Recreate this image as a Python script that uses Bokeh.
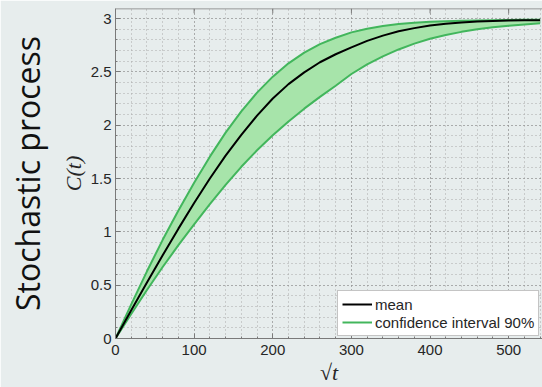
import numpy as np
from bokeh.plotting import figure
from bokeh.models import (Range1d, LinearAxis, SingleIntervalTicker, FixedTicker,
                          Legend, LegendItem, Span)
from bokeh.embed import file_html
from bokeh.resources import INLINE

# ---- data ----
sqrt_t = [0, 20, 40, 60, 80, 100, 120, 140, 160, 180, 200, 220, 240, 260,
          280, 300, 320, 340, 360, 380, 400, 420, 440, 460, 480, 500, 520, 540]
mean = [0, 0.265, 0.525, 0.78, 1.03, 1.27, 1.5, 1.715, 1.91, 2.09, 2.25,
        2.385, 2.495, 2.59, 2.665, 2.73, 2.79, 2.84, 2.88, 2.91, 2.935,
        2.952, 2.963, 2.971, 2.977, 2.981, 2.983, 2.985]
upper = [0, 0.32, 0.63, 0.925, 1.2, 1.46, 1.705, 1.93, 2.13, 2.305, 2.455,
         2.58, 2.68, 2.76, 2.82, 2.87, 2.905, 2.93, 2.948, 2.96, 2.969,
         2.975, 2.979, 2.982, 2.985, 2.987, 2.988, 2.989]
lower = [0, 0.23, 0.455, 0.67, 0.875, 1.07, 1.26, 1.44, 1.61, 1.765, 1.905,
         2.035, 2.155, 2.265, 2.37, 2.48, 2.57, 2.645, 2.71, 2.765, 2.81,
         2.845, 2.875, 2.9, 2.918, 2.933, 2.945, 2.955]

x_ticks = [0, 100, 200, 300, 400, 500]
x_tick_labels = {0: "0", 100: "100", 200: "200", 300: "300", 400: "400", 500: "500"}
y_tick_labels = {0: "0", 0.5: "0.5", 1: "1", 1.5: "1.5", 2: "2", 2.5: "2.5", 3: "3"}

Y_MAX = 3.094
BG = "#e7eded"
AX = "#7a7a7a"
TXT = "#262626"

p = figure(width=542, height=387, output_backend="svg", toolbar_location=None,
           x_range=Range1d(0, 543), y_range=Range1d(0, Y_MAX),
           x_axis_location=None, y_axis_location=None,
           min_border_left=115, min_border_right=0, min_border_top=8,
           min_border_bottom=49)
p.background_fill_color = BG
p.border_fill_color = BG
p.outline_line_color = None

xt = SingleIntervalTicker(interval=100, num_minor_ticks=5)
yt = SingleIntervalTicker(interval=0.5, num_minor_ticks=5)

xa = LinearAxis(ticker=xt, major_label_overrides=x_tick_labels)
ya = LinearAxis(ticker=yt, major_label_overrides=y_tick_labels)
for ax in (xa, ya):
    ax.axis_line_color = AX
    ax.major_tick_line_color = AX
    ax.minor_tick_line_color = AX
    ax.major_tick_in = 5
    ax.major_tick_out = 0
    ax.minor_tick_in = 2
    ax.minor_tick_out = 0
    ax.major_label_text_font = "Liberation Sans"
    ax.major_label_text_font_size = "15px"
    ax.major_label_text_color = TXT
    ax.axis_label_text_font = "Liberation Serif"
    ax.axis_label_text_font_style = "italic"
    ax.axis_label_text_font_size = "22px"
    ax.axis_label_text_color = TXT
xa.major_label_standoff = 6
ya.major_label_standoff = 4
xa.axis_label = "√t"
xa.axis_label_standoff = 2
ya.axis_label = "C(t)"
ya.axis_label_standoff = 2
p.add_layout(xa, "below")
p.add_layout(ya, "left")

# outer left "axis" carrying the slide title
sa = LinearAxis(ticker=FixedTicker(ticks=[]), axis_line_color=None,
                major_tick_line_color=None, minor_tick_line_color=None,
                major_label_standoff=0)
sa.axis_label = "Stochastic process"
sa.axis_label_text_font = "Open Sans"
sa.axis_label_text_font_size = "32px"
sa.axis_label_text_font_style = "normal"
sa.axis_label_text_color = "#111111"
sa.axis_label_standoff = 9
p.add_layout(sa, "left")

p.xgrid.ticker = xt
p.ygrid.ticker = yt
for g in (p.xgrid, p.ygrid):
    g.grid_line_color = "#8a8a8a"
    g.grid_line_dash = "1 3"
    g.grid_line_width = 1
    g.minor_grid_line_color = "#a8a8a8"
    g.minor_grid_line_dash = "1 3"
    g.minor_grid_line_width = 1

# top box edge with inward major ticks
p.add_layout(Span(location=Y_MAX, dimension="width", line_color=AX, line_width=1.5))
p.segment(x0=x_ticks, y0=[Y_MAX] * len(x_ticks), x1=x_ticks,
          y1=[Y_MAX - 0.045] * len(x_ticks), line_color=AX, line_width=1)

p.varea(x=sqrt_t, y1=lower, y2=upper, fill_color="#a7e4aa", fill_alpha=1)
up = p.line(sqrt_t, upper, line_color="#42b65c", line_width=2)
p.line(sqrt_t, lower, line_color="#42b65c", line_width=2)
mn = p.line(sqrt_t, mean, line_color="black", line_width=2)

legend = Legend(items=[LegendItem(label="mean", renderers=[mn]),
                       LegendItem(label="confidence interval 90%", renderers=[up])],
                location=(222, 2), orientation="vertical",
                background_fill_color="white", background_fill_alpha=1,
                border_line_color="#8a8a8a", border_line_width=1,
                label_text_font="Liberation Sans", label_text_font_size="15px",
                label_text_color=TXT, glyph_width=30, glyph_height=18,
                label_height=18, label_standoff=3, spacing=0, padding=4,
                margin=0)
p.add_layout(legend, "center")

open("out.html", "w").write(file_html(p, INLINE))
